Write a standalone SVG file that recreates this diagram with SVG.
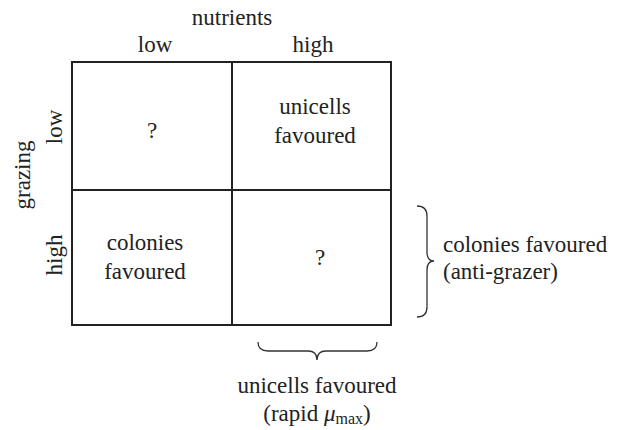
<svg xmlns="http://www.w3.org/2000/svg" width="630" height="430" viewBox="0 0 630 430">
<style>
text{font-family:"Liberation Serif","Times New Roman",serif;font-size:23px;fill:#222;}
.c{text-anchor:middle;}
.ln{fill:none;stroke:#222;stroke-width:2;}
.br{fill:none;stroke:#333;stroke-width:1.3;}
</style>
<rect width="630" height="430" fill="#fff"/>
<text class="c" x="232" y="25">nutrients</text>
<text class="c" x="155" y="52">low</text>
<text class="c" x="313" y="52">high</text>
<text class="c" transform="translate(62,127) rotate(-90)">low</text>
<text class="c" transform="translate(30,175) rotate(-90)">grazing</text>
<text class="c" transform="translate(62,255) rotate(-90)">high</text>
<g id="cell-ll"><rect class="ln" x="72" y="62" width="160" height="128"/><text class="c" x="152" y="138">?</text></g>
<g id="cell-hl"><rect class="ln" x="232" y="62" width="159" height="128"/><text class="c" x="315" y="114">unicells</text><text class="c" x="315" y="143">favoured</text></g>
<g id="cell-lh"><rect class="ln" x="72" y="190" width="160" height="135"/><text class="c" x="145" y="250">colonies</text><text class="c" x="145" y="279">favoured</text></g>
<g id="cell-hh"><rect class="ln" x="232" y="190" width="159" height="135"/><text class="c" x="320" y="265">?</text></g>
<g id="connectors">
<path class="br" d="M417,206 Q427,206 427,216 L427,252 Q427,261 434,261 Q427,261 427,270 L427,307 Q427,317 417,317"/>
<path class="br" d="M258,342 Q258,351 268,351 L308,351 Q317,351 317,360 Q317,351 326,351 L367,351 Q377,351 377,342"/>
</g>
<text x="443" y="252">colonies favoured</text>
<text x="443" y="279">(anti-grazer)</text>
<text class="c" x="317" y="393">unicells favoured</text>
<text class="c" x="317" y="421">(rapid <tspan font-style="italic">μ</tspan><tspan font-size="16" dy="3">max</tspan><tspan dy="-3">)</tspan></text>
</svg>
